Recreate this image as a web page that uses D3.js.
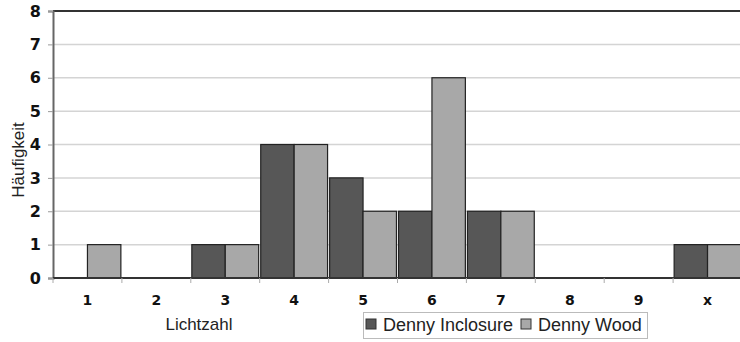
<!DOCTYPE html>
<html><head><meta charset="utf-8">
<script src="https://cdn.jsdelivr.net/npm/d3@7"></script>
<style>body{margin:0;background:#fff}svg{display:block}</style>
</head><body>
<svg id="c" width="740" height="342"></svg>
<script>
const categories = ["1","2","3","4","5","6","7","8","9","x"];
const seriesNames = ["Denny Inclosure","Denny Wood"];
const inclosure = [0,0,1,4,3,2,2,0,0,1];
const wood = [1,0,1,4,2,6,2,0,0,1];
const yTicks = [0,1,2,3,4,5,6,7,8];
const colors = ["#575757","#a8a8a8"];

const svg = d3.select("#c");
const m = {l:53, t:11, r:742, b:278};
const x = d3.scaleBand().domain(categories).range([m.l, m.r]).paddingInner(0.03).paddingOuter(0.015);
const xb = d3.scaleBand().domain(categories).range([m.l, m.r]);
const y = d3.scaleLinear().domain([0,8]).range([m.b, m.t]);
const xs = d3.scaleBand().domain(seriesNames).range([0, x.bandwidth()]);

// gridlines
svg.append("g").selectAll("line").data(yTicks.filter(d=>d>0&&d<8)).join("line")
  .attr("x1", m.l).attr("x2", 740).attr("y1", d=>y(d)).attr("y2", d=>y(d))
  .attr("stroke", "#d4d4d4").attr("stroke-width", 1.5);
// top border
svg.append("line").attr("x1", m.l).attr("x2", 740).attr("y1", y(8)).attr("y2", y(8))
  .attr("stroke", "#333").attr("stroke-width", 2);

// bars
const data = categories.map((c,i)=>({c, vals:[inclosure[i], wood[i]]}));
const g = svg.append("g");
data.forEach(d=>{
  d.vals.forEach((v,j)=>{
    if (v<=0) return;
    g.append("rect")
      .attr("x", x(d.c)+xs(seriesNames[j]))
      .attr("y", y(v))
      .attr("width", xs.bandwidth())
      .attr("height", y(0)-y(v))
      .attr("fill", colors[j]).attr("stroke", "#222").attr("stroke-width", 1.2);
  });
});

// y axis
const ya = svg.append("g").attr("transform", `translate(${m.l},0)`)
  .call(d3.axisLeft(y).tickValues(yTicks).tickSize(5).tickPadding(7));
ya.select(".domain").attr("stroke", "#666").attr("stroke-width", 2);
ya.selectAll(".tick line").attr("stroke", "#999");
ya.selectAll("text").attr("font-family", "DejaVu Sans").attr("font-weight", "bold")
  .attr("font-size", 16).attr("fill", "#111");

// x axis
const xa = svg.append("g").attr("transform", `translate(0,${m.b})`)
  .call(d3.axisBottom(xb).tickSize(0).tickPadding(17));
xa.select(".domain").remove();
svg.append("line").attr("x1", m.l).attr("x2", 740).attr("y1", m.b).attr("y2", m.b)
  .attr("stroke", "#333").attr("stroke-width", 2);
svg.append("g").selectAll("line").data(categories).join("line")
  .attr("x1", d=>xb(d)).attr("x2", d=>xb(d)).attr("y1", m.b).attr("y2", m.b+5)
  .attr("stroke", "#aaa");
xa.selectAll("text").attr("font-family", "DejaVu Sans").attr("font-weight", "bold")
  .attr("font-size", 14).attr("fill", "#111");

// axis titles
svg.append("text").attr("transform", "translate(24,160) rotate(-90)")
  .attr("text-anchor", "middle").attr("font-family", "Liberation Sans").attr("font-size", 17)
  .attr("fill", "#222").text("Häufigkeit");
svg.append("text").attr("x", 199).attr("y", 330).attr("text-anchor", "middle")
  .attr("font-family", "Liberation Sans").attr("font-size", 17).attr("fill", "#222").text("Lichtzahl");

// legend
const lg = svg.append("g");
lg.append("rect").attr("x", 363.5).attr("y", 312.5).attr("width", 284).attr("height", 26)
  .attr("fill", "#fff").attr("stroke", "#bbb");
const lx = [366, 521];
seriesNames.forEach((s,j)=>{
  lg.append("rect").attr("x", lx[j]).attr("y", 319).attr("width", 10).attr("height", 10)
    .attr("fill", colors[j]).attr("stroke", "#333");
  lg.append("text").attr("x", lx[j]+17).attr("y", 331)
    .attr("font-family", "Liberation Sans").attr("font-size", 18).attr("fill", "#222").text(s);
});
</script>
</body></html>
